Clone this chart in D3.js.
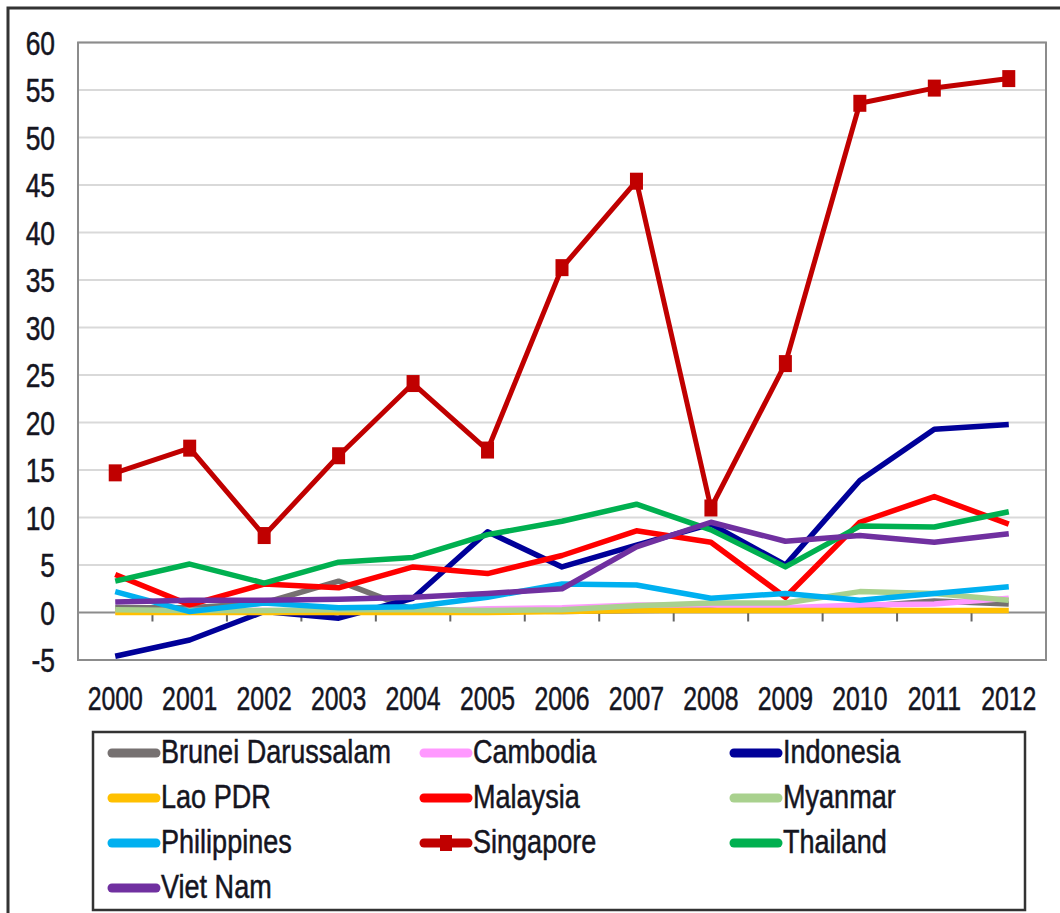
<!DOCTYPE html>
<html>
<head>
<meta charset="utf-8">
<script src="https://cdn.jsdelivr.net/npm/d3@7"></script>
<style>
  body { margin: 0; background: #fff; }
  svg text { font-family: "Liberation Sans Narrow", "Arial Narrow", "Liberation Sans", sans-serif; fill: #15151f; stroke: #15151f; stroke-width: 0.5px; }
</style>
</head>
<body>
<svg id="chart" width="1060" height="913"></svg>
<script>
// years on the category axis
var years = ["2000", "2001", "2002", "2003", "2004", "2005", "2006", "2007", "2008", "2009", "2010", "2011", "2012"];
var yTicks = [-5, 0, 5, 10, 15, 20, 25, 30, 35, 40, 45, 50, 55, 60];

// values per country
var brunei      = [0.5, 0.5, 1.0, 3.3, 0.3, 0.2, 0.1, 0.2, 0.3, 0.4, 0.6, 1.2, 0.9];
var cambodia    = [0.1, 0.2, 0.2, 0.1, 0.1, 0.4, 0.5, 0.8, 0.8, 0.5, 0.8, 0.9, 1.5];
var indonesia   = [-4.6, -2.9, 0.1, -0.6, 1.5, 8.5, 4.8, 7.1, 9.3, 5.0, 13.9, 19.3, 19.8];
var lao         = [0.0, 0.0, 0.0, 0.0, 0.0, 0.0, 0.1, 0.2, 0.2, 0.2, 0.2, 0.2, 0.2];
var malaysia    = [4.0, 0.8, 3.0, 2.6, 4.8, 4.1, 6.0, 8.6, 7.4, 1.6, 9.5, 12.2, 9.3];
var myanmar     = [0.3, 0.2, 0.2, 0.3, 0.3, 0.2, 0.3, 0.7, 1.0, 1.0, 2.2, 2.0, 1.3];
var philippines = [2.2, 0.1, 1.0, 0.5, 0.6, 1.6, 3.0, 2.9, 1.5, 2.0, 1.3, 2.0, 2.7];
var singapore   = [14.7, 17.3, 8.1, 16.5, 24.1, 17.1, 36.3, 45.4, 11.0, 26.2, 53.6, 55.2, 56.2];
var thailand    = [3.3, 5.1, 3.1, 5.3, 5.8, 8.2, 9.6, 11.4, 8.7, 4.8, 9.1, 9.0, 10.6];
var vietnam     = [1.1, 1.3, 1.3, 1.4, 1.6, 2.0, 2.5, 6.9, 9.5, 7.5, 8.1, 7.4, 8.3];

var series = [
    {name: "Brunei Darussalam", values: brunei, color: "#767171"},
    {name: "Cambodia", values: cambodia, color: "#ff99ff"},
    {name: "Indonesia", values: indonesia, color: "#000099"},
    {name: "Lao PDR", values: lao, color: "#ffc000"},
    {name: "Malaysia", values: malaysia, color: "#ff0000"},
    {name: "Myanmar", values: myanmar, color: "#a9d18e"},
    {name: "Philippines", values: philippines, color: "#00b0f0"},
    {name: "Singapore", values: singapore, color: "#c00000", marker: true},
    {name: "Thailand", values: thailand, color: "#00b050"},
    {name: "Viet Nam", values: vietnam, color: "#7030a0"}
];

var svg = d3.select("#chart");

var plot = {left: 78, right: 1046, top: 42.5, bottom: 660};

var x = d3.scaleBand().domain(years).range([plot.left, plot.right]);
var y = d3.scaleLinear().domain([-5, 60]).range([plot.bottom, plot.top]);

// text squeezed sideways (the original uses a narrow face)
function narrow(sel, px, py, sx) {
    return sel.attr("transform", "translate(" + px + "," + py + ") scale(" + sx + ",1)");
}

// outer frame
svg.append("path")
    .attr("d", "M8,913 L8,8 L1062,8")
    .attr("fill", "none")
    .attr("stroke", "#333")
    .attr("stroke-width", 3);

// gridlines
svg.append("g")
    .selectAll("line")
    .data(yTicks.filter(function (d) { return d > -5 && d !== 0; }))
    .join("line")
    .attr("x1", plot.left).attr("x2", plot.right)
    .attr("y1", function (d) { return y(d); })
    .attr("y2", function (d) { return y(d); })
    .attr("stroke", "#d9d9d9")
    .attr("stroke-width", 2);

// plot area border
svg.append("rect")
    .attr("x", plot.left).attr("y", plot.top)
    .attr("width", plot.right - plot.left)
    .attr("height", plot.bottom - plot.top)
    .attr("fill", "none")
    .attr("stroke", "#8c8c8c")
    .attr("stroke-width", 2);

// y axis labels
svg.append("g")
    .selectAll("text")
    .data(yTicks)
    .join("text")
    .each(function (d) { narrow(d3.select(this), 55, y(d) + 12, 0.8); })
    .attr("text-anchor", "end")
    .attr("font-size", 33)
    .text(function (d) { return String(d); });

// category axis crossing at zero
var zeroY = y(0);
var xg = svg.append("g").attr("transform", "translate(0," + zeroY + ")");
xg.append("line")
    .attr("x1", plot.left).attr("x2", plot.right)
    .attr("stroke", "#8c8c8c").attr("stroke-width", 2);
xg.selectAll("line.tick")
    .data(years.slice(1))
    .join("line")
    .attr("class", "tick")
    .attr("x1", function (d) { return x(d); })
    .attr("x2", function (d) { return x(d); })
    .attr("y1", 0).attr("y2", 9)
    .attr("stroke", "#666").attr("stroke-width", 2);

// year labels under the plot
svg.append("g")
    .selectAll("text")
    .data(years)
    .join("text")
    .each(function (d) { narrow(d3.select(this), x(d) + x.bandwidth() / 2, 710, 0.73); })
    .attr("text-anchor", "middle")
    .attr("font-size", 34)
    .text(function (d) { return d; });

// lines
var line = d3.line()
    .x(function (d, i) { return x(years[i]) + x.bandwidth() / 2; })
    .y(function (d) { return y(d); });

var lines = svg.append("g");
series.forEach(function (s) {
    lines.append("path")
        .datum(s.values)
        .attr("d", line)
        .attr("fill", "none")
        .attr("stroke", s.color)
        .attr("stroke-width", s.marker ? 5 : 5.5)
        .attr("stroke-linejoin", "round");
    if (s.marker) {
        lines.selectAll("rect.m")
            .data(s.values)
            .join("rect")
            .attr("class", "m")
            .attr("x", function (d, i) { return x(years[i]) + x.bandwidth() / 2 - 6.5; })
            .attr("y", function (d) { return y(d) - 8.5; })
            .attr("width", 13).attr("height", 17)
            .attr("fill", s.color);
    }
});

// legend
var legend = svg.append("g");
legend.append("rect")
    .attr("x", 93).attr("y", 732)
    .attr("width", 932).attr("height", 178)
    .attr("fill", "#fff")
    .attr("stroke", "#333")
    .attr("stroke-width", 2.5);

var colX = [108, 420, 730], rowY = [753, 798, 843, 888];
series.forEach(function (s, i) {
    var lx = colX[i % 3], ly = rowY[Math.floor(i / 3)];
    var item = legend.append("g").attr("transform", "translate(" + lx + "," + ly + ")");
    item.append("line")
        .attr("x1", 4).attr("x2", 48)
        .attr("stroke", s.color)
        .attr("stroke-width", 9)
        .attr("stroke-linecap", "round");
    if (s.marker) {
        item.append("rect")
            .attr("x", 20).attr("y", -8)
            .attr("width", 12).attr("height", 16)
            .attr("fill", s.color);
    }
    narrow(item.append("text"), 53, 10, 0.82)
        .attr("font-size", 33)
        .text(s.name);
});
</script>
</body>
</html>
